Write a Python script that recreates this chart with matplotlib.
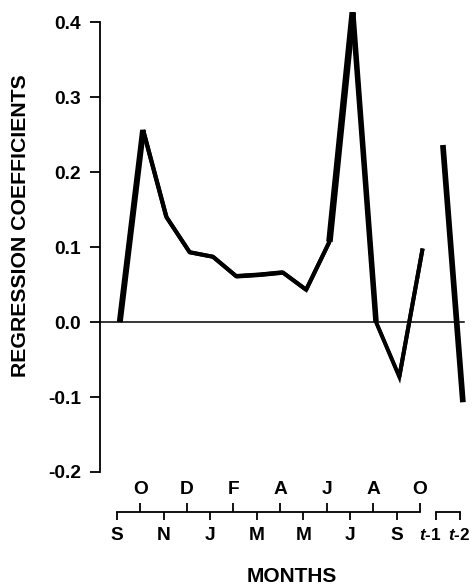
import numpy as np
import matplotlib
matplotlib.use('Agg')
import matplotlib.pyplot as plt
from matplotlib.collections import LineCollection

plt.rcParams['font.family'] = ['Liberation Sans', 'DejaVu Sans']
plt.rcParams['font.weight'] = 'bold'
plt.rcParams['mathtext.fontset'] = 'custom'
plt.rcParams['mathtext.it'] = 'Liberation Sans:italic:bold'
plt.rcParams['mathtext.rm'] = 'Liberation Sans:bold'

# monthly regression coefficients, previous September to current October
months = ['S', 'O', 'N', 'D', 'J', 'F', 'M', 'A', 'M', 'J', 'J', 'A', 'S', 'O']
coef = [0.0, 0.256, 0.14, 0.093, 0.087, 0.061, 0.063, 0.066, 0.043,
        0.107, 0.413, 0.0, -0.073, 0.098]

# lagged terms
lag_labels = ['$t$-1', '$t$-2']
lag_coef = [0.236, -0.107]

yticks = [-0.2, -0.1, 0.0, 0.1, 0.2, 0.3, 0.4]

# line width (pt) of each segment between months
seg_width = [4.3, 3.1, 2.9, 2.9, 2.9, 3.3, 3.3, 2.9, 2.9, 4.7, 4.0, 2.4, 2.9]
lag_width = 4.1

W, H = 477, 587
fig = plt.figure(figsize=(W / 100, H / 100), dpi=100)

xlim = (-0.73, 15.24)
ylim = (-0.2, 0.4227)
left, right = 100 / W, 372 / W
tick_fs = 13.8

# main axes
ax = fig.add_axes([left, 1 - 472 / H, right, 467 / H])
ax.set_xlim(xlim)
ax.set_ylim(ylim)
for s in ['top', 'right', 'bottom']:
    ax.spines[s].set_visible(False)
ax.spines['left'].set_bounds(-0.2, 0.4)
ax.spines['left'].set_linewidth(1.3)
ax.set_yticks(yticks, labels=[f'{v:.1f}' for v in yticks])
ax.tick_params(axis='y', length=7.2, width=1.3, pad=6.5, labelsize=tick_fs)
ax.set_xticks([])

# zero line
ax.plot([xlim[0], 14.88], [0, 0], color='k', lw=1.1)

# coefficient curve: thin base line for the joins, then variable width segments
x = np.arange(len(months)) + 0.12
ax.plot(x, coef, color='k', lw=2.9, solid_joinstyle='miter',
        solid_capstyle='butt', clip_on=False)
segs = [[(x[i], coef[i]), (x[i + 1], coef[i + 1])] for i in range(len(x) - 1)]
lc = LineCollection(segs, linewidths=seg_width, colors='k', capstyle='butt',
                    clip_on=False)
ax.add_collection(lc)

lag_x = [13.99, 14.85]
ax.plot(lag_x, lag_coef, color='k', lw=lag_width, solid_capstyle='butt',
        clip_on=False)

# month scale below the plot
axm = fig.add_axes([left, 1 - 512 / H, right, 1e-6])
axm.set_xlim(xlim)
axm.patch.set_visible(False)
axm.set_yticks([])
for s in ['top', 'left', 'right']:
    axm.spines[s].set_visible(False)
axm.spines['bottom'].set_bounds(0, 13)
axm.spines['bottom'].set_linewidth(1.3)
axm.set_xticks(range(0, 14, 2), labels=months[0::2])
axm.set_xticks(range(1, 14, 2), labels=months[1::2], minor=True)
axm.tick_params(which='major', direction='out', length=6, width=1.3,
                bottom=True, top=False, labelbottom=True, labeltop=False,
                labelsize=tick_fs, pad=4.5)
axm.tick_params(which='minor', direction='out', length=6.5, width=1.3,
                bottom=False, top=True, labelbottom=False, labeltop=True,
                labelsize=tick_fs, pad=3.5)

# bracket for lags (ticks on the bracket, labels a little apart)
axl = fig.add_axes([left, 1 - 512 / H, right, 1e-6])
axl.set_xlim(xlim)
axl.patch.set_visible(False)
axl.set_yticks([])
for s in ['top', 'left', 'right']:
    axl.spines[s].set_visible(False)
lag_ticks = [13.7, 14.72]
axl.spines['bottom'].set_bounds(lag_ticks[0], lag_ticks[1])
axl.spines['bottom'].set_linewidth(1.3)
axl.set_xticks(lag_ticks, labels=['', ''])
axl.set_xticks([13.45, 14.68], labels=lag_labels, minor=True)
axl.tick_params(which='major', direction='out', length=6, width=1.3)
axl.tick_params(which='minor', length=0, labelsize=tick_fs - 1.5, pad=10.8)

fig.text(292 / W, 1 - 577 / H, 'MONTHS', ha='center', va='center', fontsize=15)
fig.text(21 / W, 1 - 226 / H, 'REGRESSION COEFFICIENTS', rotation=90,
         ha='center', va='center', fontsize=15.3)

fig.savefig('out.png', dpi=100)
